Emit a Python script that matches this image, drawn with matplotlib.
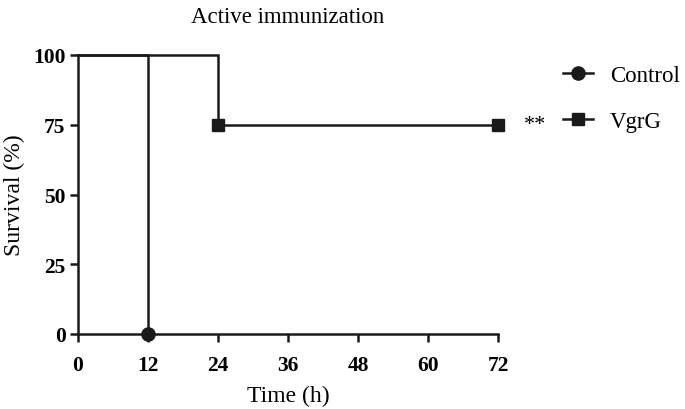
import matplotlib
matplotlib.use("Agg")
import matplotlib.pyplot as plt
from matplotlib.lines import Line2D

plt.rcParams['font.family'] = ['Liberation Serif', 'DejaVu Serif']

# Data
control_t = [0, 12, 12]
control_s = [100, 100, 0]
control_marker_t = [12]
control_marker_s = [0]

vgrg_t = [0, 24, 24, 72]
vgrg_s = [100, 100, 75, 75]
vgrg_marker_t = [24, 72]
vgrg_marker_s = [75, 75]

xticks = [0, 12, 24, 36, 48, 60, 72]
yticks = [0, 25, 50, 75, 100]

fig = plt.figure(figsize=(6.85, 4.10), dpi=100)
ax = fig.add_axes([78/685, 1-335/410, (498-78)/685, (335-56)/410])

lw = 1.8
col = '#1a1a1a'
ax.plot(control_t, control_s, color=col, lw=lw, clip_on=False, solid_joinstyle='miter')
ax.plot(control_marker_t, control_marker_s, 'o', color=col, ms=9.5, clip_on=False, zorder=5)
ax.plot(vgrg_t, vgrg_s, color=col, lw=lw, clip_on=False, solid_joinstyle='miter')
ax.plot(vgrg_marker_t, vgrg_marker_s, 's', color=col, ms=9, clip_on=False, zorder=5)

ax.set_xlim(0, 72)
ax.set_ylim(0, 100)
ax.set_xticks(xticks)
ax.set_yticks(yticks)
ax.set_xticklabels([str(v) for v in xticks], fontweight='bold', fontsize=15.5)
ax.set_yticklabels([str(v) for v in yticks], fontweight='bold', fontsize=15.5)
ax.tick_params(direction='out', length=6, width=1.8, color=col)
ax.tick_params(axis='x', pad=9)
ax.tick_params(axis='y', pad=3)
for s in ['top', 'right']:
    ax.spines[s].set_visible(False)
for s in ['left', 'bottom']:
    ax.spines[s].set_linewidth(1.8)
    ax.spines[s].set_color(col)

ax.set_xlabel('Time (h)', fontsize=17, labelpad=7)
ax.set_ylabel('Survival (%)', fontsize=17, labelpad=6)
ax.set_title('Active immunization', fontsize=16.5, pad=24)

ax.text(76.5, 75, '**', fontsize=16, va='center', ha='left')

handles = [
    Line2D([], [], color=col, lw=lw, marker='o', ms=9.5),
    Line2D([], [], color=col, lw=lw, marker='s', ms=9),
]
fig.legend(handles, ['Control', 'VgrG'], loc='upper left',
           bbox_to_anchor=(563/685, 1-66/410), frameon=False, fontsize=16.5,
           handlelength=1.31, handletextpad=0.74, labelspacing=1.1,
           borderaxespad=0, borderpad=0)

fig.savefig('out.png', dpi=100)
